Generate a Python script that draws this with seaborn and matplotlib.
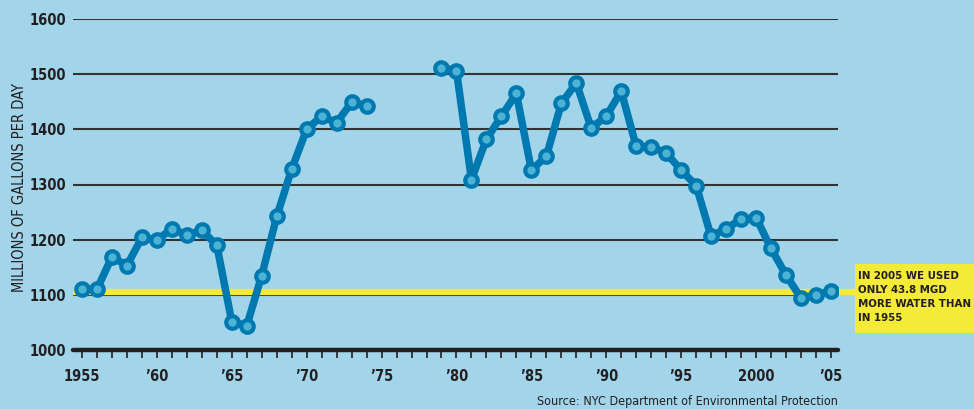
import numpy as np
import pandas as pd
import matplotlib
matplotlib.use("Agg")
import matplotlib.pyplot as plt
import seaborn as sns
from matplotlib.patches import Rectangle
from matplotlib import font_manager as fm

years_a = list(range(1955, 1975))
mgd_a = [1110, 1110, 1169, 1153, 1204, 1199, 1220, 1208, 1217, 1190,
         1051, 1044, 1135, 1242, 1328, 1400, 1424, 1412, 1449, 1443]
years_b = list(range(1979, 2006))
mgd_b = [1512, 1506, 1309, 1382, 1424, 1465, 1326, 1351, 1447, 1484,
         1402, 1424, 1469, 1369, 1368, 1357, 1326, 1298, 1206, 1220,
         1237, 1240, 1184, 1136, 1094, 1100, 1107]
ref_level = 1106
y_ticks = [1000, 1100, 1200, 1300, 1400, 1500, 1600]
x_tick_pos = [1955, 1960, 1965, 1970, 1975, 1980, 1985, 1990, 1995, 2000, 2005]
x_tick_labels = ["1955", "\u201960", "\u201965", "\u201970", "\u201975", "\u201980",
                 "\u201985", "\u201990", "\u201995", "2000", "\u201905"]
note_lines = ["IN 2005 WE USED", "ONLY 43.8 MGD", "MORE WATER THAN", "IN 1955"]
source_text = "Source: NYC Department of Environmental Protection"
y_label = "MILLIONS OF GALLONS PER DAY"


def find_condensed(bold):
    prefs = ["liberationsansnarrow", "dejavusanscondensed", "notosans-condensed",
             "notosanscondensed", "robotocondensed", "opensanscondensed",
             "opensans_condensed", "condensed", "narrow"]
    files = [f.fname for f in fm.fontManager.ttflist]
    for p in prefs:
        for fn in files:
            low = fn.lower().replace(" ", "")
            base = low.split("/")[-1]
            if p not in base:
                continue
            if "italic" in base or "oblique" in base:
                continue
            isbold = "bold" in base and "semibold" not in base and "extrabold" not in base
            if bold and not isbold:
                continue
            if not bold and ("bold" in base or "light" in base or "medium" in base
                             or "thin" in base or "black" in base or "semi" in base
                             or "extra" in base):
                continue
            return fn
    return None


bold_path = find_condensed(True)
reg_path = find_condensed(False)


def fp(size, bold=False):
    path = bold_path if bold else reg_path
    if path:
        return fm.FontProperties(fname=path, size=size)
    return fm.FontProperties(family="DejaVu Sans", size=size * 0.85,
                             weight="bold" if bold else "normal")


df = pd.DataFrame({
    "year": years_a + years_b,
    "mgd": mgd_a + mgd_b,
    "segment": ["a"] * len(years_a) + ["b"] * len(years_b),
})

BG = "#A2D5EA"
LINE = "#0079B0"
FILL = "#4DB3D4"
YEL = "#F4EA38"
TXT = "#231F20"

sns.set_theme(style="white")
plt.rcParams["font.family"] = ["DejaVu Sans"]

fig = plt.figure(figsize=(9.74, 4.09), dpi=100)
fig.patch.set_facecolor(BG)
ax = fig.add_axes([73 / 974, 59 / 409, (838 - 73) / 974, (350 - 19) / 409])
ax.set_facecolor(BG)

ax.set_xlim(1954.4, 2005.47)
ax.set_ylim(1000, 1600)

for v in y_ticks[1:]:
    ax.axhline(v, color="#333333", lw=1.5, zorder=1)
ax.axhline(1000, color=TXT, lw=3.2, zorder=3, clip_on=False)

ax.plot([1954.4, 2006.6], [ref_level, ref_level], color=YEL, lw=4.5,
        zorder=2, clip_on=False, solid_capstyle="butt")

sns.lineplot(data=df, x="year", y="mgd", units="segment", estimator=None,
             color=LINE, lw=5.4, marker="o", markersize=9,
             markerfacecolor=FILL, markeredgecolor=LINE, markeredgewidth=3.0,
             ax=ax, zorder=4, legend=False)

for s in ax.spines.values():
    s.set_visible(False)

ax.set_yticks(y_ticks)
ax.set_yticklabels([str(v) for v in y_ticks], color=TXT)
for t in ax.get_yticklabels():
    t.set_fontproperties(fp(10.5, bold=True))
ax.tick_params(axis="y", length=0, pad=5)

ax.set_xticks(x_tick_pos)
ax.set_xticklabels(x_tick_labels, color=TXT)
for t in ax.get_xticklabels():
    t.set_fontproperties(fp(10.5, bold=True))
ax.set_xticks(list(range(1955, 2006)), minor=True)
ax.tick_params(axis="x", which="both", direction="out", length=6, width=1.2,
               color=TXT, bottom=True, pad=8)
ax.set_xlabel("")
ax.set_ylabel("")
fig.text(20 / 974, 1 - 187 / 409, y_label, rotation=90, ha="center", va="center",
         color=TXT, fontproperties=fp(10.5))

fig.patches.append(Rectangle((855 / 974, (409 - 333) / 409), (974 - 855) / 974, 69 / 409,
                             transform=fig.transFigure, facecolor=YEL, edgecolor="none",
                             zorder=5))
fig.text(858 / 974, 1 - 271 / 409, "\n".join(note_lines), ha="left", va="top",
         color=TXT, linespacing=1.5, zorder=6, fontproperties=fp(8.2, bold=True))

fig.text(838 / 974, 1 - 401 / 409, source_text, ha="right", va="center",
         color=TXT, fontproperties=fp(9))

fig.savefig("out.png", dpi=100, facecolor=BG)
